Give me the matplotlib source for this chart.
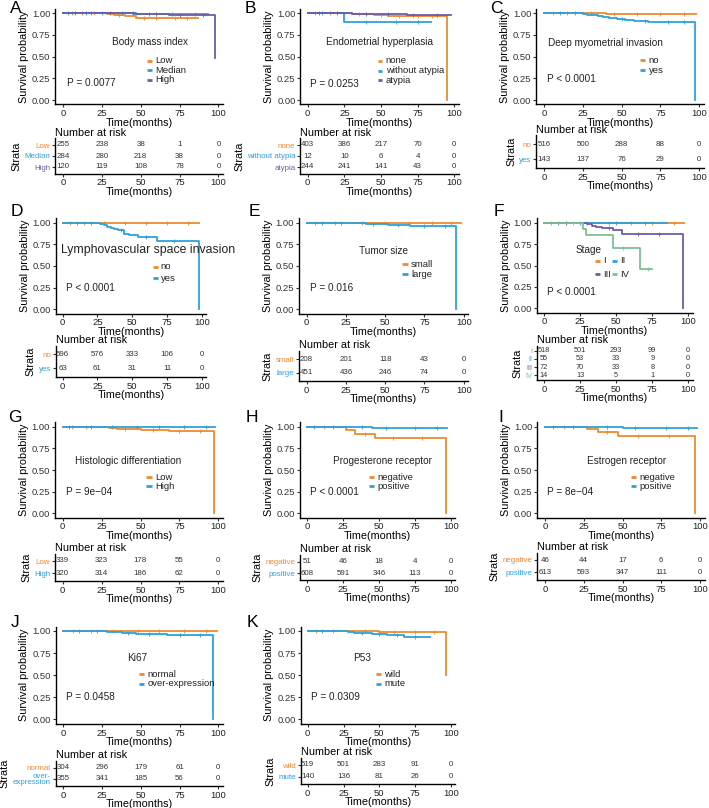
import numpy as np
import matplotlib
matplotlib.use('Agg')
import matplotlib.pyplot as plt

plt.rcParams['font.family'] = ['Liberation Sans', 'DejaVu Sans']
plt.rcParams['axes.linewidth'] = 1.0

ORANGE = '#EC8B33'
BLUE = '#2FA1DA'
PURPLE = '#6C5DA8'
GREEN = '#7DC096'
W, H = 709, 808
TICKS = [0, 25, 50, 75, 100]

# ---- data ----------------------------------------------------------------
# each curve: step times, survival after each step, last follow-up, censor times

bmi_groups = ['Low', 'Median', 'High']
bmi_t = [[0, 28, 33, 40, 47], [0, 45, 60], [0, 47, 68, 98]]
bmi_s = [[1, .99, .98, .965, .945], [1, .995, .99], [1, .99, .98, .49]]
bmi_end = [87, 93, 98]
bmi_cens = [[6, 12, 20, 36, 52, 60, 72, 80], [3, 15, 25, 38, 55, 70, 85], [8, 18, 30, 45, 60, 75, 90]]
bmi_risk = [[255, 238, 38, 1, 0], [284, 280, 218, 38, 0], [120, 119, 108, 78, 0]]

hyp_groups = ['none', 'without atypia', 'atypia']
hyp_t = [[0, 30, 45, 55, 95], [0, 25], [0, 30, 68]]
hyp_s = [[1, .99, .98, .97, 0], [1, .9], [1, .995, .985]]
hyp_end = [95, 84, 98]
hyp_cens = [[5, 15, 35, 50, 62, 75, 85], [10, 40, 60, 75], [8, 20, 40, 55, 72, 88]]
hyp_risk = [[403, 386, 217, 70, 0], [12, 10, 6, 4, 0], [244, 241, 141, 43, 0]]

myo_groups = ['no', 'yes']
myo_t = [[0, 40], [0, 25, 28, 31, 35, 38, 42, 47, 52, 58, 67, 97]]
myo_s = [[1, .995], [1, .993, .985, .975, .965, .955, .945, .935, .925, .915, .9, 0]]
myo_end = [98, 97]
myo_cens = [[6, 15, 30, 45, 60, 75, 90], [10, 20, 50, 65, 80, 90]]
myo_risk = [[516, 500, 288, 88, 0], [143, 137, 76, 29, 0]]

lvsi_groups = ['no', 'yes']
lvsi_t = [[0], [0, 27, 30, 32, 35, 37, 40, 44, 48, 54, 68, 98]]
lvsi_s = [[1], [1, .985, .97, .955, .94, .925, .91, .875, .86, .835, .785, 0]]
lvsi_end = [98, 98]
lvsi_cens = [[5, 15, 30, 45, 60, 75, 90], [10, 20, 42, 60, 80]]
lvsi_risk = [[596, 576, 333, 106, 0], [63, 61, 31, 11, 0]]

size_groups = ['small', 'large']
size_t = [[0], [0, 30, 38, 45, 52, 66, 95]]
size_s = [[1], [1, .995, .99, .98, .975, .96, 0]]
size_end = [98, 95]
size_cens = [[5, 18, 35, 50, 65, 80, 92], [10, 22, 42, 58, 75, 88]]
size_risk = [[208, 201, 118, 43, 0], [451, 436, 246, 74, 0]]

stage_groups = ['I', 'II', 'III', 'IV']
stage_t = [[0], [0, 40], [0, 30, 33, 36, 40, 48, 54, 96], [0, 27, 29, 48, 66.5]]
stage_s = [[1], [1, .995], [1, .98, .965, .955, .94, .91, .87, 0], [1, .93, .86, .70, .46]]
stage_end = [97, 85, 96, 75]
stage_cens = [[5, 15, 30, 45, 60, 75, 90], [10, 25, 50, 70], [15, 45, 65, 80], [20, 55, 72]]
stage_risk = [[518, 501, 293, 99, 0], [55, 53, 33, 9, 0], [72, 70, 33, 8, 0], [14, 13, 5, 1, 0]]

diff_groups = ['Low', 'High']
diff_t = [[0, 25, 30, 35, 45, 50, 68, 97], [0]]
diff_s = [[1, .995, .985, .978, .97, .962, .952, 0], [1]]
diff_end = [97, 98]
diff_cens = [[6, 15, 40, 58, 75, 88], [4, 18, 32, 48, 62, 78, 92]]
diff_risk = [[339, 323, 178, 55, 0], [320, 314, 186, 62, 0]]

pr_groups = ['negative', 'positive']
pr_t = [[0, 27, 33, 47, 96.5], [0, 30, 45, 68]]
pr_s = [[1, .96, .92, .87, 0], [1, .995, .99, .98]]
pr_end = [96.5, 97]
pr_cens = [[12, 40, 60, 80], [5, 18, 38, 55, 75, 90]]
pr_risk = [[51, 46, 18, 4, 0], [608, 591, 346, 113, 0]]

er_groups = ['negative', 'positive']
er_t = [[0, 27, 34, 47, 97], [0, 35, 50, 68]]
er_s = [[1, .973, .94, .89, 0], [1, .995, .99, .985]]
er_end = [97, 98]
er_cens = [[12, 40, 60, 80], [5, 18, 40, 58, 78, 92]]
er_risk = [[46, 44, 17, 6, 0], [613, 593, 347, 111, 0]]

ki_groups = ['normal', 'over-expression']
ki_labels = ['normal', 'over-\nexpression']
ki_t = [[0, 40], [0, 28, 38, 47, 67, 96.5]]
ki_s = [[1, .995], [1, .99, .98, .966, .952, 0]]
ki_end = [99, 96.5]
ki_cens = [[6, 18, 32, 48, 62, 78, 92], [10, 22, 42, 55, 75, 88]]
ki_risk = [[304, 296, 179, 61, 0], [355, 341, 185, 56, 0]]

p53_groups = ['wild', 'mute']
p53_t = [[0, 30, 50, 96.5], [0, 28, 32, 45, 55, 67]]
p53_s = [[1, .995, .99, .5], [1, .99, .98, .965, .953, .935]]
p53_end = [96.5, 85]
p53_cens = [[6, 18, 40, 60, 75, 88], [10, 38, 50, 62, 75]]
p53_risk = [[519, 501, 283, 91, 0], [140, 136, 81, 26, 0]]

# ---- figure ----------------------------------------------------------------
fig = plt.figure(figsize=(W / 100, H / 100), dpi=100)


def px_axes(left, top, right, bottom):
    return fig.add_axes([left / W, 1 - bottom / H, (right - left) / W, (bottom - top) / H])


def style(ax):
    for side in ['top', 'right']:
        ax.spines[side].set_visible(False)
    ax.tick_params(length=2.5, width=0.8, pad=1, labelsize=6.8, colors='#333333')
    ax.tick_params(axis='x', labelcolor='#222222')


def draw_curve(ax, t, s, end, cens, color):
    xs = list(t) + [end]
    ys = list(s) + [s[-1]]
    ax.step(xs, ys, where='post', color=color, lw=1.3)
    idx = np.searchsorted(t, cens, side='right') - 1
    ax.plot(cens, np.array(s)[idx], '+', color=color, ms=2.5, mew=0.6)


def panel(letter, geo, groups, colors, t, s, end, cens, risk, title, pval, txt,
          labels=None, tab_fs=5.7, ncol=1, colstep=12, title_fs=7.2):
    lx, ly, x0, x100, y1, y0, r1, rn = geo
    sx = (x100 - x0) / 100
    sy = y0 - y1
    fig.text(lx / W, 1 - ly / H, letter, fontsize=12.5, ha='left', va='top')

    ax = px_axes(x0 - 5 * sx, y1 - 0.05 * sy, x0 + 103 * sx, y0 + 0.05 * sy)
    style(ax)
    for i in range(len(groups)):
        draw_curve(ax, t[i], s[i], end[i], cens[i], colors[i])
    ax.set_xlim(-5, 103)
    ax.set_ylim(-0.05, 1.05)
    ax.set_xticks(TICKS)
    ax.set_yticks([0, .25, .5, .75, 1])
    ax.set_yticklabels(['0.00', '0.25', '0.50', '0.75', '1.00'])
    ax.set_xlabel('Time(months)', fontsize=7.8, labelpad=-0.5)
    ax.set_ylabel('Survival probability', fontsize=7.8, labelpad=2)

    tx, ty, gx, gy, step, px, py = txt
    ax.text(tx, ty, title, fontsize=title_fs, ha='center', va='center', color='#222222')
    for i, g in enumerate(groups):
        cx = gx + (i % ncol) * colstep
        cy = gy - (i // ncol) * step
        ax.plot([cx, cx + 3.3], [cy, cy], color=colors[i], lw=2, solid_capstyle='butt')
        ax.text(cx + 5.5, cy, g, fontsize=6.8, ha='left', va='center', color='#222222')
    ax.text(px, py, pval, fontsize=7.2, ha='left', va='center', color='#222222')

    n = len(groups)
    d = (rn - r1) / (n - 1)
    tb = px_axes(x0 - 5 * sx, r1 - 0.6 * d, x0 + 103 * sx, rn + 0.6 * d)
    style(tb)
    tb.set_xlim(-5, 103)
    tb.set_ylim(n + 0.6, 0.4)
    tb.set_xticks(TICKS)
    tb.set_yticks(range(1, n + 1))
    tb.set_yticklabels(labels if labels else groups, fontsize=tab_fs, linespacing=0.85)
    for lab, c in zip(tb.get_yticklabels(), colors):
        lab.set_color(c)
    for i, row in enumerate(risk):
        for x, v in zip(TICKS, row):
            tb.text(x, i + 1, str(v), fontsize=tab_fs, ha='center', va='center', color='#333333')
    tb.set_xlabel('Time(months)', fontsize=7.8, labelpad=-0.5)
    tb.set_ylabel('Strata', fontsize=7.8, labelpad=2)
    tb.set_title('Number at risk', fontsize=7.8, loc='left', pad=2)


c2 = [ORANGE, BLUE]
c3 = [ORANGE, BLUE, PURPLE]

panel('A', (10, 1, 63, 218.5, 13.3, 100, 145, 167), bmi_groups, c3, bmi_t, bmi_s, bmi_end, bmi_cens,
      bmi_risk, 'Body mass index', 'P = 0.0077', (55.8, .674, 54, .453, .11, 2.6, .198))
panel('B', (245, 1, 307.7, 454.3, 13.3, 100, 145, 167), hyp_groups, c3, hyp_t, hyp_s, hyp_end, hyp_cens,
      hyp_risk, 'Endometrial hyperplasia', 'P = 0.0253', (48.8, .666, 47.7, .45, .11, 1.6, .185))
panel('C', (490, 1, 544, 699.3, 13.3, 100, 144.3, 159.3), myo_groups, c2, myo_t, myo_s, myo_end, myo_cens,
      myo_risk, 'Deep myometrial invasion', 'P < 0.0001', (39.3, .654, 61.8, .46, .114, 2.1, .24))

panel('D', (11, 204, 62.7, 201.7, 222.7, 309.3, 354.3, 368.3), lvsi_groups, c2, lvsi_t, lvsi_s, lvsi_end,
      lvsi_cens, lvsi_risk, 'Lymphovascular space invasion', 'P < 0.0001',
      (61.7, .685, 65, .49, .132, 2.4, .25), title_fs=8.8)
panel('E', (249, 204, 306.7, 463.7, 222.7, 309.3, 359.3, 372.7), size_groups, c2, size_t, size_s, size_end,
      size_cens, size_risk, 'Tumor size', 'P = 0.016', (49, .677, 61, .523, .119, 2.1, .242))
panel('F', (494, 204, 544, 688.3, 222.7, 308.3, 350.7, 375.3), stage_groups, [ORANGE, BLUE, PURPLE, GREEN],
      stage_t, stage_s, stage_end, stage_cens, stage_risk, 'Stage', 'P < 0.0001',
      (30.7, .68, 35.3, .554, .157, 2.3, .194), tab_fs=5.3, ncol=2, colstep=11.7)

panel('G', (8, 410, 62.7, 218.3, 426.7, 513.3, 561, 573.3), diff_groups, c2, diff_t, diff_s, diff_end,
      diff_cens, diff_risk, 'Histologic differentiation', 'P = 9e\u221204',
      (42, .606, 53.8, .419, .107, 1.9, .25))
panel('H', (246, 410, 307, 451, 426.7, 513.3, 561.7, 573.3), pr_groups, c2, pr_t, pr_s, pr_end,
      pr_cens, pr_risk, 'Progesterone receptor', 'P < 0.0001', (52.6, .606, 43.3, .417, .107, 2.1, .248))
panel('I', (498, 410, 545, 700, 426.7, 513.3, 560, 572.3), er_groups, c2, er_t, er_s, er_end,
      er_cens, er_risk, 'Estrogen receptor', 'P = 8e\u221204', (52.7, .606, 55.5, .417, .107, 1.5, .248))

panel('J', (11, 615, 63.3, 218.3, 631, 719.3, 767.7, 779), ki_groups, c2, ki_t, ki_s, ki_end,
      ki_cens, ki_risk, 'Ki67', 'P = 0.0458', (47.8, .698, 48.6, .51, .11, 1.7, .256), labels=ki_labels)
panel('K', (247, 615, 307.7, 451, 631, 719.3, 765, 776.7), p53_groups, c2, p53_t, p53_s, p53_end,
      p53_cens, p53_risk, 'P53', 'P = 0.0309', (37.9, .698, 47.7, .51, .11, 2.3, .256))

fig.savefig('out.png', dpi=100)
